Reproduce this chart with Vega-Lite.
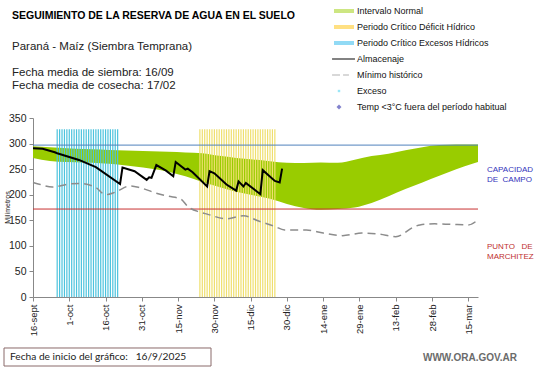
{
  "$schema": "https://vega.github.io/schema/vega-lite/v6.json",
  "width": 445,
  "height": 179,
  "autosize": {"type": "none"},
  "padding": {"left": 33, "top": 118, "right": 63, "bottom": 71},
  "background": "white",
  "config": {
    "view": {"stroke": null},
    "font": "Liberation Sans",
    "axis": {"grid": false, "domainColor": "#888888", "tickColor": "#888888", "labelColor": "#222222", "labelFont": "Liberation Sans", "labelOverlap": false}
  },
  "title": {
    "text": "SEGUIMIENTO DE LA RESERVA DE AGUA EN EL SUELO",
    "subtitle": "Paraná - Maíz (Siembra Temprana)",
    "anchor": "start",
    "frame": "group",
    "dx": -21,
    "offset": -48,
    "font": "Liberation Sans",
    "fontSize": 10.5,
    "fontWeight": "bold",
    "color": "#000000",
    "subtitleFont": "Liberation Sans",
    "subtitleFontSize": 11.5,
    "subtitleColor": "#222222",
    "subtitlePadding": 19,
    "subtitleLineHeight": 13
  },
  "datasets": {
    "banda": [
      {"fecha": "2025-09-16", "inferior": 272, "superior": 295},
      {"fecha": "2025-09-23", "inferior": 266, "superior": 293},
      {"fecha": "2025-09-30", "inferior": 264, "superior": 291},
      {"fecha": "2025-10-07", "inferior": 263, "superior": 289.5},
      {"fecha": "2025-10-14", "inferior": 261.5, "superior": 288.5},
      {"fecha": "2025-10-21", "inferior": 259, "superior": 287},
      {"fecha": "2025-10-28", "inferior": 255, "superior": 286},
      {"fecha": "2025-11-04", "inferior": 251, "superior": 285},
      {"fecha": "2025-11-11", "inferior": 245, "superior": 284},
      {"fecha": "2025-11-18", "inferior": 236, "superior": 282.5},
      {"fecha": "2025-11-25", "inferior": 225, "superior": 281},
      {"fecha": "2025-12-02", "inferior": 215, "superior": 276},
      {"fecha": "2025-12-09", "inferior": 206, "superior": 272},
      {"fecha": "2025-12-16", "inferior": 199, "superior": 269},
      {"fecha": "2025-12-23", "inferior": 192, "superior": 265.5},
      {"fecha": "2025-12-30", "inferior": 182, "superior": 262.5},
      {"fecha": "2026-01-06", "inferior": 174, "superior": 262},
      {"fecha": "2026-01-13", "inferior": 170.5, "superior": 263},
      {"fecha": "2026-01-20", "inferior": 172, "superior": 262.5},
      {"fecha": "2026-01-27", "inferior": 175, "superior": 268.5},
      {"fecha": "2026-02-03", "inferior": 184, "superior": 275.5},
      {"fecha": "2026-02-10", "inferior": 197, "superior": 280},
      {"fecha": "2026-02-17", "inferior": 211, "superior": 287},
      {"fecha": "2026-02-24", "inferior": 224, "superior": 293},
      {"fecha": "2026-03-03", "inferior": 237, "superior": 297},
      {"fecha": "2026-03-10", "inferior": 250, "superior": 298},
      {"fecha": "2026-03-17", "inferior": 261, "superior": 298},
      {"fecha": "2026-03-19", "inferior": 264, "superior": 298}
    ],
    "excesos": [
      {"fecha": "2025-09-26"}, {"fecha": "2025-09-27"}, {"fecha": "2025-09-28"}, {"fecha": "2025-09-29"}, {"fecha": "2025-09-30"},
      {"fecha": "2025-10-01"}, {"fecha": "2025-10-02"}, {"fecha": "2025-10-03"}, {"fecha": "2025-10-04"}, {"fecha": "2025-10-05"},
      {"fecha": "2025-10-06"}, {"fecha": "2025-10-07"}, {"fecha": "2025-10-08"}, {"fecha": "2025-10-09"}, {"fecha": "2025-10-10"},
      {"fecha": "2025-10-11"}, {"fecha": "2025-10-12"}, {"fecha": "2025-10-13"}, {"fecha": "2025-10-14"}, {"fecha": "2025-10-15"},
      {"fecha": "2025-10-16"}, {"fecha": "2025-10-17"}, {"fecha": "2025-10-18"}, {"fecha": "2025-10-19"}, {"fecha": "2025-10-20"},
      {"fecha": "2025-10-21"}
    ],
    "deficit": [
      {"fecha": "2025-11-24"}, {"fecha": "2025-11-25"}, {"fecha": "2025-11-26"}, {"fecha": "2025-11-27"}, {"fecha": "2025-11-28"},
      {"fecha": "2025-11-29"}, {"fecha": "2025-11-30"}, {"fecha": "2025-12-01"}, {"fecha": "2025-12-02"}, {"fecha": "2025-12-03"},
      {"fecha": "2025-12-04"}, {"fecha": "2025-12-05"}, {"fecha": "2025-12-06"}, {"fecha": "2025-12-07"}, {"fecha": "2025-12-08"},
      {"fecha": "2025-12-09"}, {"fecha": "2025-12-10"}, {"fecha": "2025-12-11"}, {"fecha": "2025-12-12"}, {"fecha": "2025-12-13"},
      {"fecha": "2025-12-14"}, {"fecha": "2025-12-15"}, {"fecha": "2025-12-16"}, {"fecha": "2025-12-17"}, {"fecha": "2025-12-18"},
      {"fecha": "2025-12-19"}, {"fecha": "2025-12-20"}, {"fecha": "2025-12-21"}, {"fecha": "2025-12-22"}, {"fecha": "2025-12-23"},
      {"fecha": "2025-12-24"}, {"fecha": "2025-12-25"}
    ],
    "almacenaje": [
      {"fecha": "2025-09-16", "mm": 291},
      {"fecha": "2025-09-20", "mm": 290},
      {"fecha": "2025-09-25", "mm": 283},
      {"fecha": "2025-09-26", "mm": 281},
      {"fecha": "2025-10-05", "mm": 268},
      {"fecha": "2025-10-12", "mm": 254},
      {"fecha": "2025-10-22", "mm": 221},
      {"fecha": "2025-10-23", "mm": 253},
      {"fecha": "2025-10-28", "mm": 246},
      {"fecha": "2025-11-02", "mm": 229},
      {"fecha": "2025-11-03", "mm": 234},
      {"fecha": "2025-11-04", "mm": 233},
      {"fecha": "2025-11-06", "mm": 258},
      {"fecha": "2025-11-10", "mm": 247},
      {"fecha": "2025-11-13", "mm": 236},
      {"fecha": "2025-11-14", "mm": 264},
      {"fecha": "2025-11-18", "mm": 249},
      {"fecha": "2025-11-19", "mm": 251},
      {"fecha": "2025-11-21", "mm": 244},
      {"fecha": "2025-11-27", "mm": 216},
      {"fecha": "2025-11-28", "mm": 246},
      {"fecha": "2025-11-30", "mm": 242},
      {"fecha": "2025-12-05", "mm": 220},
      {"fecha": "2025-12-09", "mm": 208},
      {"fecha": "2025-12-10", "mm": 226},
      {"fecha": "2025-12-12", "mm": 216},
      {"fecha": "2025-12-13", "mm": 223},
      {"fecha": "2025-12-19", "mm": 201},
      {"fecha": "2025-12-20", "mm": 248},
      {"fecha": "2025-12-25", "mm": 227},
      {"fecha": "2025-12-27", "mm": 224},
      {"fecha": "2025-12-28", "mm": 251}
    ],
    "minimo": [
      {"fecha": "2025-09-16", "mm": 224},
      {"fecha": "2025-09-19", "mm": 220},
      {"fecha": "2025-09-24", "mm": 215},
      {"fecha": "2025-10-01", "mm": 221},
      {"fecha": "2025-10-05", "mm": 222},
      {"fecha": "2025-10-12", "mm": 214},
      {"fecha": "2025-10-16", "mm": 200},
      {"fecha": "2025-10-20", "mm": 205},
      {"fecha": "2025-10-26", "mm": 217},
      {"fecha": "2025-10-30", "mm": 214},
      {"fecha": "2025-11-06", "mm": 203},
      {"fecha": "2025-11-11", "mm": 197},
      {"fecha": "2025-11-16", "mm": 192},
      {"fecha": "2025-11-19", "mm": 177},
      {"fecha": "2025-11-24", "mm": 166},
      {"fecha": "2025-11-27", "mm": 162},
      {"fecha": "2025-12-05", "mm": 153},
      {"fecha": "2025-12-12", "mm": 159},
      {"fecha": "2025-12-18", "mm": 149},
      {"fecha": "2025-12-25", "mm": 138},
      {"fecha": "2025-12-29", "mm": 131},
      {"fecha": "2026-01-07", "mm": 131},
      {"fecha": "2026-01-14", "mm": 125},
      {"fecha": "2026-01-22", "mm": 120},
      {"fecha": "2026-01-30", "mm": 125},
      {"fecha": "2026-02-06", "mm": 123},
      {"fecha": "2026-02-13", "mm": 118},
      {"fecha": "2026-02-21", "mm": 138},
      {"fecha": "2026-02-23", "mm": 141},
      {"fecha": "2026-03-01", "mm": 143},
      {"fecha": "2026-03-08", "mm": 142},
      {"fecha": "2026-03-15", "mm": 141},
      {"fecha": "2026-03-19", "mm": 151}
    ],
    "series": [
      {"serie": "Intervalo Normal"},
      {"serie": "Periodo Crítico Déficit Hídrico"},
      {"serie": "Periodo Crítico Excesos Hídricos"},
      {"serie": "Almacenaje"},
      {"serie": "Mínimo histórico"},
      {"serie": "Exceso"},
      {"serie": "Temp <3°C fuera del período habitual"}
    ]
  },
  "layer": [
    {
      "data": {"name": "banda"},
      "mark": {"type": "area", "color": "#99cc00", "interpolate": "monotone"},
      "encoding": {
        "x": {
          "field": "fecha", "type": "temporal",
          "scale": {"type": "utc", "domain": [{"year": 2025, "month": 9, "date": 16, "utc": true}, {"year": 2026, "month": 3, "date": 19, "utc": true}]},
          "axis": {
            "title": null,
            "values": [
              {"year": 2025, "month": 9, "date": 16, "utc": true},
              {"year": 2025, "month": 10, "date": 1, "utc": true},
              {"year": 2025, "month": 10, "date": 16, "utc": true},
              {"year": 2025, "month": 10, "date": 31, "utc": true},
              {"year": 2025, "month": 11, "date": 15, "utc": true},
              {"year": 2025, "month": 11, "date": 30, "utc": true},
              {"year": 2025, "month": 12, "date": 15, "utc": true},
              {"year": 2025, "month": 12, "date": 30, "utc": true},
              {"year": 2026, "month": 1, "date": 14, "utc": true},
              {"year": 2026, "month": 1, "date": 29, "utc": true},
              {"year": 2026, "month": 2, "date": 13, "utc": true},
              {"year": 2026, "month": 2, "date": 28, "utc": true},
              {"year": 2026, "month": 3, "date": 15, "utc": true}
            ],
            "tickCount": 30,
            "labelExpr": "utcdate(datum.value) + '-' + ['ene','feb','mar','abr','may','jun','jul','ago','sept','oct','nov','dic'][utcmonth(datum.value)]",
            "labelAngle": -90,
            "labelFontSize": 9.5,
            "labelPadding": 3,
            "labelOverlap": false,
            "labelBound": false,
            "labelFlush": false,
            "tickSize": 4
          }
        },
        "y": {
          "field": "inferior", "type": "quantitative",
          "scale": {"domain": [0, 350], "nice": false},
          "axis": {
            "title": "Milímetros",
            "values": [0, 50, 100, 150, 200, 250, 300, 350],
            "tickCount": 20,
            "labelFontSize": 10.5,
            "labelPadding": 3,
            "labelOverlap": false,
            "labelBound": false,
            "labelFlush": false,
            "tickSize": 4,
            "titleFontSize": 7,
            "titleFontWeight": "normal",
            "titleColor": "#222222",
            "titleX": -26,
            "titleY": 89,
            "titleBaseline": "middle"
          }
        },
        "y2": {"field": "superior"}
      }
    },
    {
      "data": {"name": "excesos"},
      "mark": {"type": "rule", "color": "#4cc3dd", "strokeWidth": 1.2},
      "encoding": {
        "x": {"field": "fecha", "type": "temporal"},
        "y": {"datum": 0},
        "y2": {"datum": 328}
      }
    },
    {
      "data": {"name": "deficit"},
      "mark": {"type": "rule", "color": "#efdf6e", "strokeWidth": 1.2},
      "encoding": {
        "x": {"field": "fecha", "type": "temporal"},
        "y": {"datum": 0},
        "y2": {"datum": 328}
      }
    },
    {
      "data": {"values": [{}]},
      "mark": {"type": "rule", "color": "#4f81bd", "strokeWidth": 1},
      "encoding": {"y": {"datum": 297}}
    },
    {
      "data": {"values": [{}]},
      "mark": {"type": "rule", "color": "#c83232", "strokeWidth": 1},
      "encoding": {"y": {"datum": 172}}
    },
    {
      "data": {"name": "minimo"},
      "mark": {"type": "line", "color": "#8c8c8c", "strokeWidth": 1.5, "strokeDash": [8, 5], "interpolate": "monotone"},
      "encoding": {
        "x": {"field": "fecha", "type": "temporal"},
        "y": {"field": "mm", "type": "quantitative"}
      }
    },
    {
      "data": {"name": "almacenaje"},
      "mark": {"type": "line", "color": "#000000", "strokeWidth": 2},
      "encoding": {
        "x": {"field": "fecha", "type": "temporal"},
        "y": {"field": "mm", "type": "quantitative"}
      }
    },
    {
      "data": {"values": [{}]},
      "mark": {"type": "text", "text": ["Fecha media de siembra: 16/09", "Fecha media de cosecha: 17/02"], "align": "left", "baseline": "top", "dx": -21, "dy": -51, "font": "Liberation Sans", "fontSize": 11.5, "lineHeight": 13, "color": "#222222"},
      "encoding": {
        "x": {"datum": {"year": 2025, "month": 9, "date": 16, "utc": true}, "type": "temporal"},
        "y": {"datum": 350}
      }
    },
    {
      "data": {"values": [{}]},
      "mark": {"type": "text", "text": ["CAPACIDAD", "DE\u00a0 CAMPO"], "align": "left", "baseline": "top", "dx": 9, "dy": 21, "fontSize": 8, "lineHeight": 9.5, "color": "#3333bb"},
      "encoding": {
        "x": {"datum": {"year": 2026, "month": 3, "date": 19, "utc": true}, "type": "temporal"},
        "y": {"datum": 297}
      }
    },
    {
      "data": {"values": [{}]},
      "mark": {"type": "text", "text": ["PUNTO\u00a0\u00a0 DE", "MARCHITEZ"], "align": "left", "baseline": "top", "dx": 9, "dy": 34, "fontSize": 8, "lineHeight": 9.5, "color": "#c03030"},
      "encoding": {
        "x": {"datum": {"year": 2026, "month": 3, "date": 19, "utc": true}, "type": "temporal"},
        "y": {"datum": 172}
      }
    },
    {
      "data": {"values": [{}]},
      "mark": {"type": "point", "shape": "M-1,-0.087H1V0.087H-1Z", "size": 42849, "filled": false, "stroke": "#8a6a6a", "strokeWidth": 1, "opacity": 1, "xOffset": 74.5, "yOffset": 60},
      "encoding": {
        "x": {"datum": {"year": 2025, "month": 9, "date": 16, "utc": true}, "type": "temporal"},
        "y": {"datum": 0}
      }
    },
    {
      "data": {"values": [{}]},
      "mark": {"type": "text", "text": "Fecha de inicio del gráfico:\u00a0\u00a0 16/9/2025", "align": "left", "baseline": "middle", "dx": -23, "dy": 60, "font": "Lato", "fontSize": 10.2, "color": "#222222"},
      "encoding": {
        "x": {"datum": {"year": 2025, "month": 9, "date": 16, "utc": true}, "type": "temporal"},
        "y": {"datum": 0}
      }
    },
    {
      "data": {"values": [{}]},
      "mark": {"type": "text", "text": "WWW.ORA.GOV.AR", "align": "center", "baseline": "middle", "dx": -8, "dy": 61, "font": "Liberation Sans", "fontSize": 10, "fontWeight": "bold", "color": "#6b6b6b"},
      "encoding": {
        "x": {"datum": {"year": 2026, "month": 3, "date": 19, "utc": true}, "type": "temporal"},
        "y": {"datum": 0}
      }
    },
    {
      "data": {"name": "series"},
      "transform": [{"filter": "false"}],
      "mark": {"type": "point", "filled": true},
      "encoding": {
        "color": {
          "field": "serie", "type": "nominal",
          "scale": {
            "domain": ["Intervalo Normal", "Periodo Crítico Déficit Hídrico", "Periodo Crítico Excesos Hídricos", "Almacenaje", "Mínimo histórico", "Exceso", "Temp <3°C fuera del período habitual"],
            "range": ["#99cc00", "#ffc000", "#1fb4ea", "#000000", "#969696", "#33ccee", "#000099"]
          },
          "legend": {
            "title": null,
            "orient": "none",
            "legendX": 304,
            "legendY": -114,
            "labelFont": "Liberation Sans",
            "labelFontSize": 9,
            "labelColor": "#111111",
            "labelOffset": 6,
            "labelExpr": "(datum.label == 'Exceso' || datum.label == 'Temp <3°C fuera del período habitual') ? '\u00a0\u00a0' + datum.label : datum.label",
            "symbolSize": 196,
            "symbolStrokeWidth": 0,
            "symbolOpacity": 1,
            "rowPadding": 4,
            "padding": 0
          }
        },
        "shape": {
          "field": "serie", "type": "nominal",
          "scale": {
            "domain": ["Intervalo Normal", "Periodo Crítico Déficit Hídrico", "Periodo Crítico Excesos Hídricos", "Almacenaje", "Mínimo histórico", "Exceso", "Temp <3°C fuera del período habitual"],
            "range": [
              "M-1.43,-0.29H1.43V0.29H-1.43Z",
              "M-1.43,-0.29H1.43V0.29H-1.43Z",
              "M-1.43,-0.29H1.43V0.29H-1.43Z",
              "M-1.71,-0.14H1.57V0.14H-1.71Z",
              "M-1.71,-0.11H-0.57V0.11H-1.71Z M-0.14,-0.11H0.71V0.11H-0.14Z",
              "M-0.89,-0.17H-0.54V0.17H-0.89Z",
              "M-0.71,-0.36L-0.36,0L-0.71,0.36L-1.07,0Z"
            ]
          },
          "legend": {
            "title": null,
            "orient": "none",
            "legendX": 304,
            "legendY": -114
          }
        }
      }
    }
  ]
}
